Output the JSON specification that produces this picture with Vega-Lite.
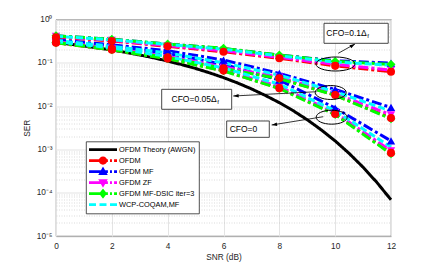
{
  "$schema": "https://vega.github.io/schema/vega-lite/v6.json",
  "width": 335,
  "height": 216.5,
  "autosize": {"type": "none"},
  "padding": {"left": 56, "top": 19.5, "right": 41, "bottom": 28},
  "background": "white",
  "config": {
    "font": "Liberation Sans",
    "view": {"stroke": "#333333", "strokeWidth": 0.8},
    "legend": {
      "padding": 3,
      "strokeColor": "#262626",
      "strokeWidth": 0.8,
      "fillColor": "white",
      "clipHeight": 10.2,
      "rowPadding": 0,
      "symbolSize": 784,
      "symbolOffset": 0,
      "labelOffset": 2,
      "labelFontSize": 7.4,
      "labelColor": "black",
      "labelLimit": 0,
      "symbolStrokeWidth": 0,
      "symbolOpacity": 1
    }
  },
  "datasets": {
    "main": [
      {"s": "OFDM Theory (AWGN)", "g": "th", "x": 0, "y": 0.2922},
      {"s": "OFDM Theory (AWGN)", "g": "th", "x": 0.5, "y": 0.2685},
      {"s": "OFDM Theory (AWGN)", "g": "th", "x": 1, "y": 0.2447},
      {"s": "OFDM Theory (AWGN)", "g": "th", "x": 1.5, "y": 0.2208},
      {"s": "OFDM Theory (AWGN)", "g": "th", "x": 2, "y": 0.1972},
      {"s": "OFDM Theory (AWGN)", "g": "th", "x": 2.5, "y": 0.1741},
      {"s": "OFDM Theory (AWGN)", "g": "th", "x": 3, "y": 0.1516},
      {"s": "OFDM Theory (AWGN)", "g": "th", "x": 3.5, "y": 0.1301},
      {"s": "OFDM Theory (AWGN)", "g": "th", "x": 4, "y": 0.1098},
      {"s": "OFDM Theory (AWGN)", "g": "th", "x": 4.5, "y": 0.091},
      {"s": "OFDM Theory (AWGN)", "g": "th", "x": 5, "y": 0.074},
      {"s": "OFDM Theory (AWGN)", "g": "th", "x": 5.5, "y": 0.0587},
      {"s": "OFDM Theory (AWGN)", "g": "th", "x": 6, "y": 0.0455},
      {"s": "OFDM Theory (AWGN)", "g": "th", "x": 6.5, "y": 0.0343},
      {"s": "OFDM Theory (AWGN)", "g": "th", "x": 7, "y": 0.025},
      {"s": "OFDM Theory (AWGN)", "g": "th", "x": 7.5, "y": 0.0176},
      {"s": "OFDM Theory (AWGN)", "g": "th", "x": 8, "y": 0.012},
      {"s": "OFDM Theory (AWGN)", "g": "th", "x": 8.5, "y": 0.0078},
      {"s": "OFDM Theory (AWGN)", "g": "th", "x": 9, "y": 0.00483},
      {"s": "OFDM Theory (AWGN)", "g": "th", "x": 9.5, "y": 0.00283},
      {"s": "OFDM Theory (AWGN)", "g": "th", "x": 10, "y": 0.00157},
      {"s": "OFDM Theory (AWGN)", "g": "th", "x": 10.5, "y": 0.000808},
      {"s": "OFDM Theory (AWGN)", "g": "th", "x": 11, "y": 0.000388},
      {"s": "OFDM Theory (AWGN)", "g": "th", "x": 11.5, "y": 0.000171},
      {"s": "OFDM Theory (AWGN)", "g": "th", "x": 12, "y": 0.0000687},

      {"s": "OFDM", "g": "0", "x": 0, "y": 0.29},
      {"s": "OFDM", "g": "0", "x": 2, "y": 0.2},
      {"s": "OFDM", "g": "0", "x": 4, "y": 0.125},
      {"s": "OFDM", "g": "0", "x": 6, "y": 0.066},
      {"s": "OFDM", "g": "0", "x": 8, "y": 0.026},
      {"s": "OFDM", "g": "0", "x": 10, "y": 0.0066},
      {"s": "OFDM", "g": "0", "x": 12, "y": 0.00083},
      {"s": "OFDM", "g": "0.05", "x": 0, "y": 0.3},
      {"s": "OFDM", "g": "0.05", "x": 2, "y": 0.21},
      {"s": "OFDM", "g": "0.05", "x": 4, "y": 0.135},
      {"s": "OFDM", "g": "0.05", "x": 6, "y": 0.075},
      {"s": "OFDM", "g": "0.05", "x": 8, "y": 0.044},
      {"s": "OFDM", "g": "0.05", "x": 10, "y": 0.018},
      {"s": "OFDM", "g": "0.05", "x": 12, "y": 0.0053},
      {"s": "OFDM", "g": "0.1", "x": 0, "y": 0.39},
      {"s": "OFDM", "g": "0.1", "x": 2, "y": 0.32},
      {"s": "OFDM", "g": "0.1", "x": 4, "y": 0.24},
      {"s": "OFDM", "g": "0.1", "x": 6, "y": 0.18},
      {"s": "OFDM", "g": "0.1", "x": 8, "y": 0.127},
      {"s": "OFDM", "g": "0.1", "x": 10, "y": 0.085},
      {"s": "OFDM", "g": "0.1", "x": 12, "y": 0.062},

      {"s": "GFDM MF", "g": "0", "x": 0, "y": 0.33},
      {"s": "GFDM MF", "g": "0", "x": 2, "y": 0.245},
      {"s": "GFDM MF", "g": "0", "x": 4, "y": 0.165},
      {"s": "GFDM MF", "g": "0", "x": 6, "y": 0.092},
      {"s": "GFDM MF", "g": "0", "x": 8, "y": 0.04},
      {"s": "GFDM MF", "g": "0", "x": 10, "y": 0.009},
      {"s": "GFDM MF", "g": "0", "x": 12, "y": 0.00157},
      {"s": "GFDM MF", "g": "0.05", "x": 0, "y": 0.34},
      {"s": "GFDM MF", "g": "0.05", "x": 2, "y": 0.26},
      {"s": "GFDM MF", "g": "0.05", "x": 4, "y": 0.19},
      {"s": "GFDM MF", "g": "0.05", "x": 6, "y": 0.116},
      {"s": "GFDM MF", "g": "0.05", "x": 8, "y": 0.057},
      {"s": "GFDM MF", "g": "0.05", "x": 10, "y": 0.0242},
      {"s": "GFDM MF", "g": "0.05", "x": 12, "y": 0.0093},
      {"s": "GFDM MF", "g": "0.1", "x": 0, "y": 0.42},
      {"s": "GFDM MF", "g": "0.1", "x": 2, "y": 0.35},
      {"s": "GFDM MF", "g": "0.1", "x": 4, "y": 0.27},
      {"s": "GFDM MF", "g": "0.1", "x": 6, "y": 0.213},
      {"s": "GFDM MF", "g": "0.1", "x": 8, "y": 0.15},
      {"s": "GFDM MF", "g": "0.1", "x": 10, "y": 0.112},
      {"s": "GFDM MF", "g": "0.1", "x": 12, "y": 0.098},

      {"s": "GFDM ZF", "g": "0", "x": 0, "y": 0.3},
      {"s": "GFDM ZF", "g": "0", "x": 2, "y": 0.205},
      {"s": "GFDM ZF", "g": "0", "x": 4, "y": 0.13},
      {"s": "GFDM ZF", "g": "0", "x": 6, "y": 0.069},
      {"s": "GFDM ZF", "g": "0", "x": 8, "y": 0.028},
      {"s": "GFDM ZF", "g": "0", "x": 10, "y": 0.0071},
      {"s": "GFDM ZF", "g": "0", "x": 12, "y": 0.00092},
      {"s": "GFDM ZF", "g": "0.05", "x": 0, "y": 0.31},
      {"s": "GFDM ZF", "g": "0.05", "x": 2, "y": 0.215},
      {"s": "GFDM ZF", "g": "0.05", "x": 4, "y": 0.14},
      {"s": "GFDM ZF", "g": "0.05", "x": 6, "y": 0.08},
      {"s": "GFDM ZF", "g": "0.05", "x": 8, "y": 0.047},
      {"s": "GFDM ZF", "g": "0.05", "x": 10, "y": 0.0195},
      {"s": "GFDM ZF", "g": "0.05", "x": 12, "y": 0.0063},
      {"s": "GFDM ZF", "g": "0.1", "x": 0, "y": 0.41},
      {"s": "GFDM ZF", "g": "0.1", "x": 2, "y": 0.33},
      {"s": "GFDM ZF", "g": "0.1", "x": 4, "y": 0.25},
      {"s": "GFDM ZF", "g": "0.1", "x": 6, "y": 0.19},
      {"s": "GFDM ZF", "g": "0.1", "x": 8, "y": 0.133},
      {"s": "GFDM ZF", "g": "0.1", "x": 10, "y": 0.092},
      {"s": "GFDM ZF", "g": "0.1", "x": 12, "y": 0.068},

      {"s": "GFDM MF-DSIC iter=3", "g": "0", "x": 0, "y": 0.29},
      {"s": "GFDM MF-DSIC iter=3", "g": "0", "x": 2, "y": 0.2},
      {"s": "GFDM MF-DSIC iter=3", "g": "0", "x": 4, "y": 0.124},
      {"s": "GFDM MF-DSIC iter=3", "g": "0", "x": 6, "y": 0.065},
      {"s": "GFDM MF-DSIC iter=3", "g": "0", "x": 8, "y": 0.0255},
      {"s": "GFDM MF-DSIC iter=3", "g": "0", "x": 10, "y": 0.0064},
      {"s": "GFDM MF-DSIC iter=3", "g": "0", "x": 12, "y": 0.00079},
      {"s": "GFDM MF-DSIC iter=3", "g": "0.05", "x": 0, "y": 0.3},
      {"s": "GFDM MF-DSIC iter=3", "g": "0.05", "x": 2, "y": 0.205},
      {"s": "GFDM MF-DSIC iter=3", "g": "0.05", "x": 4, "y": 0.133},
      {"s": "GFDM MF-DSIC iter=3", "g": "0.05", "x": 6, "y": 0.074},
      {"s": "GFDM MF-DSIC iter=3", "g": "0.05", "x": 8, "y": 0.043},
      {"s": "GFDM MF-DSIC iter=3", "g": "0.05", "x": 10, "y": 0.0178},
      {"s": "GFDM MF-DSIC iter=3", "g": "0.05", "x": 12, "y": 0.0051},
      {"s": "GFDM MF-DSIC iter=3", "g": "0.1", "x": 0, "y": 0.42},
      {"s": "GFDM MF-DSIC iter=3", "g": "0.1", "x": 2, "y": 0.35},
      {"s": "GFDM MF-DSIC iter=3", "g": "0.1", "x": 4, "y": 0.272},
      {"s": "GFDM MF-DSIC iter=3", "g": "0.1", "x": 6, "y": 0.216},
      {"s": "GFDM MF-DSIC iter=3", "g": "0.1", "x": 8, "y": 0.151},
      {"s": "GFDM MF-DSIC iter=3", "g": "0.1", "x": 10, "y": 0.108},
      {"s": "GFDM MF-DSIC iter=3", "g": "0.1", "x": 12, "y": 0.092},

      {"s": "WCP-COQAM,MF", "g": "0", "x": 0, "y": 0.31},
      {"s": "WCP-COQAM,MF", "g": "0", "x": 2, "y": 0.22},
      {"s": "WCP-COQAM,MF", "g": "0", "x": 4, "y": 0.14},
      {"s": "WCP-COQAM,MF", "g": "0", "x": 6, "y": 0.076},
      {"s": "WCP-COQAM,MF", "g": "0", "x": 8, "y": 0.032},
      {"s": "WCP-COQAM,MF", "g": "0", "x": 10, "y": 0.0078},
      {"s": "WCP-COQAM,MF", "g": "0", "x": 12, "y": 0.00113},
      {"s": "WCP-COQAM,MF", "g": "0.05", "x": 0, "y": 0.33},
      {"s": "WCP-COQAM,MF", "g": "0.05", "x": 2, "y": 0.24},
      {"s": "WCP-COQAM,MF", "g": "0.05", "x": 4, "y": 0.17},
      {"s": "WCP-COQAM,MF", "g": "0.05", "x": 6, "y": 0.1},
      {"s": "WCP-COQAM,MF", "g": "0.05", "x": 8, "y": 0.052},
      {"s": "WCP-COQAM,MF", "g": "0.05", "x": 10, "y": 0.0215},
      {"s": "WCP-COQAM,MF", "g": "0.05", "x": 12, "y": 0.0077},
      {"s": "WCP-COQAM,MF", "g": "0.1", "x": 0, "y": 0.41},
      {"s": "WCP-COQAM,MF", "g": "0.1", "x": 2, "y": 0.34},
      {"s": "WCP-COQAM,MF", "g": "0.1", "x": 4, "y": 0.265},
      {"s": "WCP-COQAM,MF", "g": "0.1", "x": 6, "y": 0.205},
      {"s": "WCP-COQAM,MF", "g": "0.1", "x": 8, "y": 0.145},
      {"s": "WCP-COQAM,MF", "g": "0.1", "x": 10, "y": 0.104},
      {"s": "WCP-COQAM,MF", "g": "0.1", "x": 12, "y": 0.088}
    ],
    "boxes": [
      {"x": 9.6, "x2": 11.9, "y": 0.817, "y2": 0.282},
      {"x": 3.786, "x2": 6.293, "y": 0.0244, "y2": 0.00844},
      {"x": 6.114, "x2": 7.64, "y": 0.00453, "y2": 0.0019}
    ],
    "notes": [
      {"t": "CFO=0.1Δ", "sub": "f", "x": 11.13, "y": 0.48},
      {"t": "CFO=0.05Δ", "sub": "f", "x": 5.755, "y": 0.01436},
      {"t": "CFO=0", "sub": "", "x": 7.21, "y": 0.00293}
    ],
    "ellipses": [
      {"id": "top", "x": 10.01, "y": 0.0938},
      {"id": "mid", "x": 9.84, "y": 0.0206},
      {"id": "low", "x": 9.875, "y": 0.00554}
    ],
    "arrows": [
      {"id": "a1", "x": 10.11, "y": 0.1657, "x2": 10.71, "y2": 0.272},
      {"id": "a2", "x": 9.337, "y": 0.0215, "x2": 6.35, "y2": 0.0171},
      {"id": "a3", "x": 9.574, "y": 0.00569, "x2": 7.725, "y2": 0.00366}
    ]
  },
  "data": {"name": "main"},
  "layer": [
    {
      "mark": {"type": "line", "strokeWidth": 3},
      "encoding": {
        "x": {
          "field": "x", "type": "quantitative",
          "scale": {"domain": [0, 12], "nice": false},
          "axis": {
            "title": "SNR (dB)", "values": [0, 2, 4, 6, 8, 10, 12],
            "grid": true, "gridColor": "#e4e4e4", "gridWidth": 1,
            "domain": false, "ticks": false, "labelPadding": 5,
            "labelFontSize": 8.3, "labelColor": "#262626", "labelFlush": false,
            "titleFontSize": 8.3, "titleFontWeight": "normal", "titleColor": "#262626", "titlePadding": 3
          }
        },
        "y": {
          "field": "y", "type": "quantitative",
          "scale": {"type": "log", "domain": [0.00001, 1], "nice": false},
          "axis": {
            "title": "SER",
            "values": [0.00001, 0.00002, 0.00003, 0.00004, 0.00005, 0.00006, 0.00007, 0.00008, 0.00009,
                       0.0001, 0.0002, 0.0003, 0.0004, 0.0005, 0.0006, 0.0007, 0.0008, 0.0009,
                       0.001, 0.002, 0.003, 0.004, 0.005, 0.006, 0.007, 0.008, 0.009,
                       0.01, 0.02, 0.03, 0.04, 0.05, 0.06, 0.07, 0.08, 0.09,
                       0.1, 0.2, 0.3, 0.4, 0.5, 0.6, 0.7, 0.8, 0.9, 1],
            "labelExpr": "abs(log(datum.value)/LN10 - round(log(datum.value)/LN10)) < 0.001 ? ['10⁰','10⁻¹','10⁻²','10⁻³','10⁻⁴','10⁻⁵'][-round(log(datum.value)/LN10)] : ''",
            "labelOverlap": false,
            "grid": true,
            "gridColor": {"condition": {"test": "abs(log(datum.value)/LN10 - round(log(datum.value)/LN10)) < 0.001", "value": "#e4e4e4"}, "value": "#c4c4c4"},
            "gridDash": {"condition": {"test": "abs(log(datum.value)/LN10 - round(log(datum.value)/LN10)) < 0.001", "value": [1, 0]}, "value": [1, 1.5]},
            "gridWidth": {"condition": {"test": "abs(log(datum.value)/LN10 - round(log(datum.value)/LN10)) < 0.001", "value": 1.2}, "value": 0.6},
            "domain": false, "ticks": false, "labelPadding": 4,
            "labelFontSize": 8.3, "labelColor": "#262626",
            "titleFontSize": 8.3, "titleFontWeight": "normal", "titleColor": "#262626", "titlePadding": 5
          }
        },
        "color": {
          "field": "s", "type": "nominal",
          "scale": {
            "domain": ["WCP-COQAM,MF", "GFDM MF-DSIC iter=3", "GFDM ZF", "GFDM MF", "OFDM", "OFDM Theory (AWGN)"],
            "range": ["#00ffff", "#00ff00", "#ff00ff", "#0000ff", "#ff0000", "#000000"]
          },
          "legend": null
        },
        "strokeDash": {
          "field": "s", "type": "nominal",
          "scale": {
            "domain": ["WCP-COQAM,MF", "GFDM MF-DSIC iter=3", "GFDM ZF", "GFDM MF", "OFDM", "OFDM Theory (AWGN)"],
            "range": [[7, 3], [10, 3, 3, 3], [10, 3, 3, 3], [10, 3, 3, 3], [10, 3, 3, 3], [1, 0]]
          },
          "legend": null
        },
        "detail": {"field": "g", "type": "nominal"}
      }
    },
    {
      "transform": [{"filter": "datum.s === 'GFDM ZF'"}],
      "mark": {"type": "point", "shape": "triangle-down", "filled": true, "opacity": 1, "size": 70},
      "encoding": {
        "x": {"field": "x", "type": "quantitative"},
        "y": {"field": "y", "type": "quantitative"},
        "color": {"field": "s", "type": "nominal", "legend": null}
      }
    },
    {
      "transform": [{"filter": "datum.s === 'GFDM MF'"}],
      "mark": {"type": "point", "shape": "triangle-up", "filled": true, "opacity": 1, "size": 70},
      "encoding": {
        "x": {"field": "x", "type": "quantitative"},
        "y": {"field": "y", "type": "quantitative"},
        "color": {"field": "s", "type": "nominal", "legend": null}
      }
    },
    {
      "transform": [{"filter": "datum.s === 'GFDM MF-DSIC iter=3'"}],
      "mark": {"type": "point", "shape": "diamond", "filled": true, "opacity": 1, "size": 80},
      "encoding": {
        "x": {"field": "x", "type": "quantitative"},
        "y": {"field": "y", "type": "quantitative"},
        "color": {"field": "s", "type": "nominal", "legend": null}
      }
    },
    {
      "transform": [{"filter": "datum.s === 'OFDM'"}],
      "mark": {"type": "point", "shape": "circle", "filled": true, "opacity": 1, "size": 65},
      "encoding": {
        "x": {"field": "x", "type": "quantitative"},
        "y": {"field": "y", "type": "quantitative"},
        "color": {"field": "s", "type": "nominal", "legend": null}
      }
    },
    {
      "data": {"name": "ellipses"},
      "transform": [{"filter": "datum.id === 'top'"}],
      "mark": {"type": "point", "shape": "M-1,0A1,0.36,0,1,0,1,0A1,0.36,0,1,0,-1,0Z", "size": 1521, "filled": false, "stroke": "black", "strokeWidth": 1, "opacity": 1},
      "encoding": {
        "x": {"field": "x", "type": "quantitative"},
        "y": {"field": "y", "type": "quantitative"}
      }
    },
    {
      "data": {"name": "ellipses"},
      "transform": [{"filter": "datum.id !== 'top'"}],
      "mark": {"type": "point", "shape": "M-1,0A1,0.45,0,1,0,1,0A1,0.45,0,1,0,-1,0Z", "size": 960, "filled": false, "stroke": "black", "strokeWidth": 1, "opacity": 1},
      "encoding": {
        "x": {"field": "x", "type": "quantitative"},
        "y": {"field": "y", "type": "quantitative"}
      }
    },
    {
      "data": {"name": "arrows"},
      "mark": {"type": "rule", "color": "black", "strokeWidth": 0.8},
      "encoding": {
        "x": {"field": "x", "type": "quantitative"},
        "y": {"field": "y", "type": "quantitative"},
        "x2": {"field": "x2"},
        "y2": {"field": "y2"}
      }
    },
    {
      "data": {"name": "arrows"},
      "transform": [{"filter": "datum.id === 'a1'"}],
      "mark": {"type": "point", "shape": "M0,0L0.6,1.8L-0.6,1.8Z", "size": 36, "angle": 59, "filled": true, "color": "black", "opacity": 1},
      "encoding": {
        "x": {"field": "x2", "type": "quantitative"},
        "y": {"field": "y2", "type": "quantitative"}
      }
    },
    {
      "data": {"name": "arrows"},
      "transform": [{"filter": "datum.id === 'a2'"}],
      "mark": {"type": "point", "shape": "M0,0L0.6,1.8L-0.6,1.8Z", "size": 36, "angle": 267, "filled": true, "color": "black", "opacity": 1},
      "encoding": {
        "x": {"field": "x2", "type": "quantitative"},
        "y": {"field": "y2", "type": "quantitative"}
      }
    },
    {
      "data": {"name": "arrows"},
      "transform": [{"filter": "datum.id === 'a3'"}],
      "mark": {"type": "point", "shape": "M0,0L0.6,1.8L-0.6,1.8Z", "size": 36, "angle": 261, "filled": true, "color": "black", "opacity": 1},
      "encoding": {
        "x": {"field": "x2", "type": "quantitative"},
        "y": {"field": "y2", "type": "quantitative"}
      }
    },
    {
      "data": {"name": "boxes"},
      "mark": {"type": "rect", "fill": "white", "stroke": "#333333", "strokeWidth": 0.9},
      "encoding": {
        "x": {"field": "x", "type": "quantitative"},
        "x2": {"field": "x2"},
        "y": {"field": "y", "type": "quantitative"},
        "y2": {"field": "y2"}
      }
    },
    {
      "data": {"name": "notes"},
      "mark": {"type": "text", "align": "right", "baseline": "middle", "fontSize": 8.5, "color": "black"},
      "encoding": {
        "x": {"field": "x", "type": "quantitative"},
        "y": {"field": "y", "type": "quantitative"},
        "text": {"field": "t"}
      }
    },
    {
      "data": {"name": "notes"},
      "mark": {"type": "text", "align": "left", "baseline": "middle", "fontSize": 6, "dx": 0.5, "dy": 3, "color": "black"},
      "encoding": {
        "x": {"field": "x", "type": "quantitative"},
        "y": {"field": "y", "type": "quantitative"},
        "text": {"field": "sub"}
      }
    },
    {
      "transform": [{"filter": "false"}],
      "mark": {"type": "point", "filled": true, "opacity": 1},
      "encoding": {
        "fill": {
          "field": "s", "type": "nominal",
          "scale": {
            "domain": ["OFDM Theory (AWGN)", "OFDM", "GFDM MF", "GFDM ZF", "GFDM MF-DSIC iter=3", "WCP-COQAM,MF"],
            "range": ["#000000", "#ff0000", "#0000ff", "#ff00ff", "#00ff00", "#00ffff"]
          },
          "legend": {"title": null, "orient": "none", "legendX": 30, "legendY": 122}
        },
        "shape": {
          "field": "s", "type": "nominal",
          "scale": {
            "domain": ["OFDM Theory (AWGN)", "OFDM", "GFDM MF", "GFDM ZF", "GFDM MF-DSIC iter=3", "WCP-COQAM,MF"],
            "range": [
              "M-1,-0.1H1V0.1H-1Z",
              "M-1,-0.1H0.35V0.1H-1Z M0.5,-0.1H0.64V0.1H0.5Z M0.79,-0.1H1V0.1H0.79Z M0.3,0A0.3,0.3,0,1,1,-0.3,0A0.3,0.3,0,1,1,0.3,0Z",
              "M-1,-0.1H0.35V0.1H-1Z M0.5,-0.1H0.64V0.1H0.5Z M0.79,-0.1H1V0.1H0.79Z M0,-0.36L0.34,0.24L-0.34,0.24Z",
              "M-1,-0.1H0.35V0.1H-1Z M0.5,-0.1H0.64V0.1H0.5Z M0.79,-0.1H1V0.1H0.79Z M0,0.36L-0.34,-0.24L0.34,-0.24Z",
              "M-1,-0.1H0.35V0.1H-1Z M0.5,-0.1H0.64V0.1H0.5Z M0.79,-0.1H1V0.1H0.79Z M0,-0.36L0.28,0L0,0.36L-0.28,0Z",
              "M-1,-0.1H-0.5V0.1H-1Z M-0.25,-0.1H0.25V0.1H-0.25Z M0.5,-0.1H1V0.1H0.5Z"
            ]
          },
          "legend": {"title": null, "orient": "none", "legendX": 30, "legendY": 122}
        }
      }
    }
  ]
}
